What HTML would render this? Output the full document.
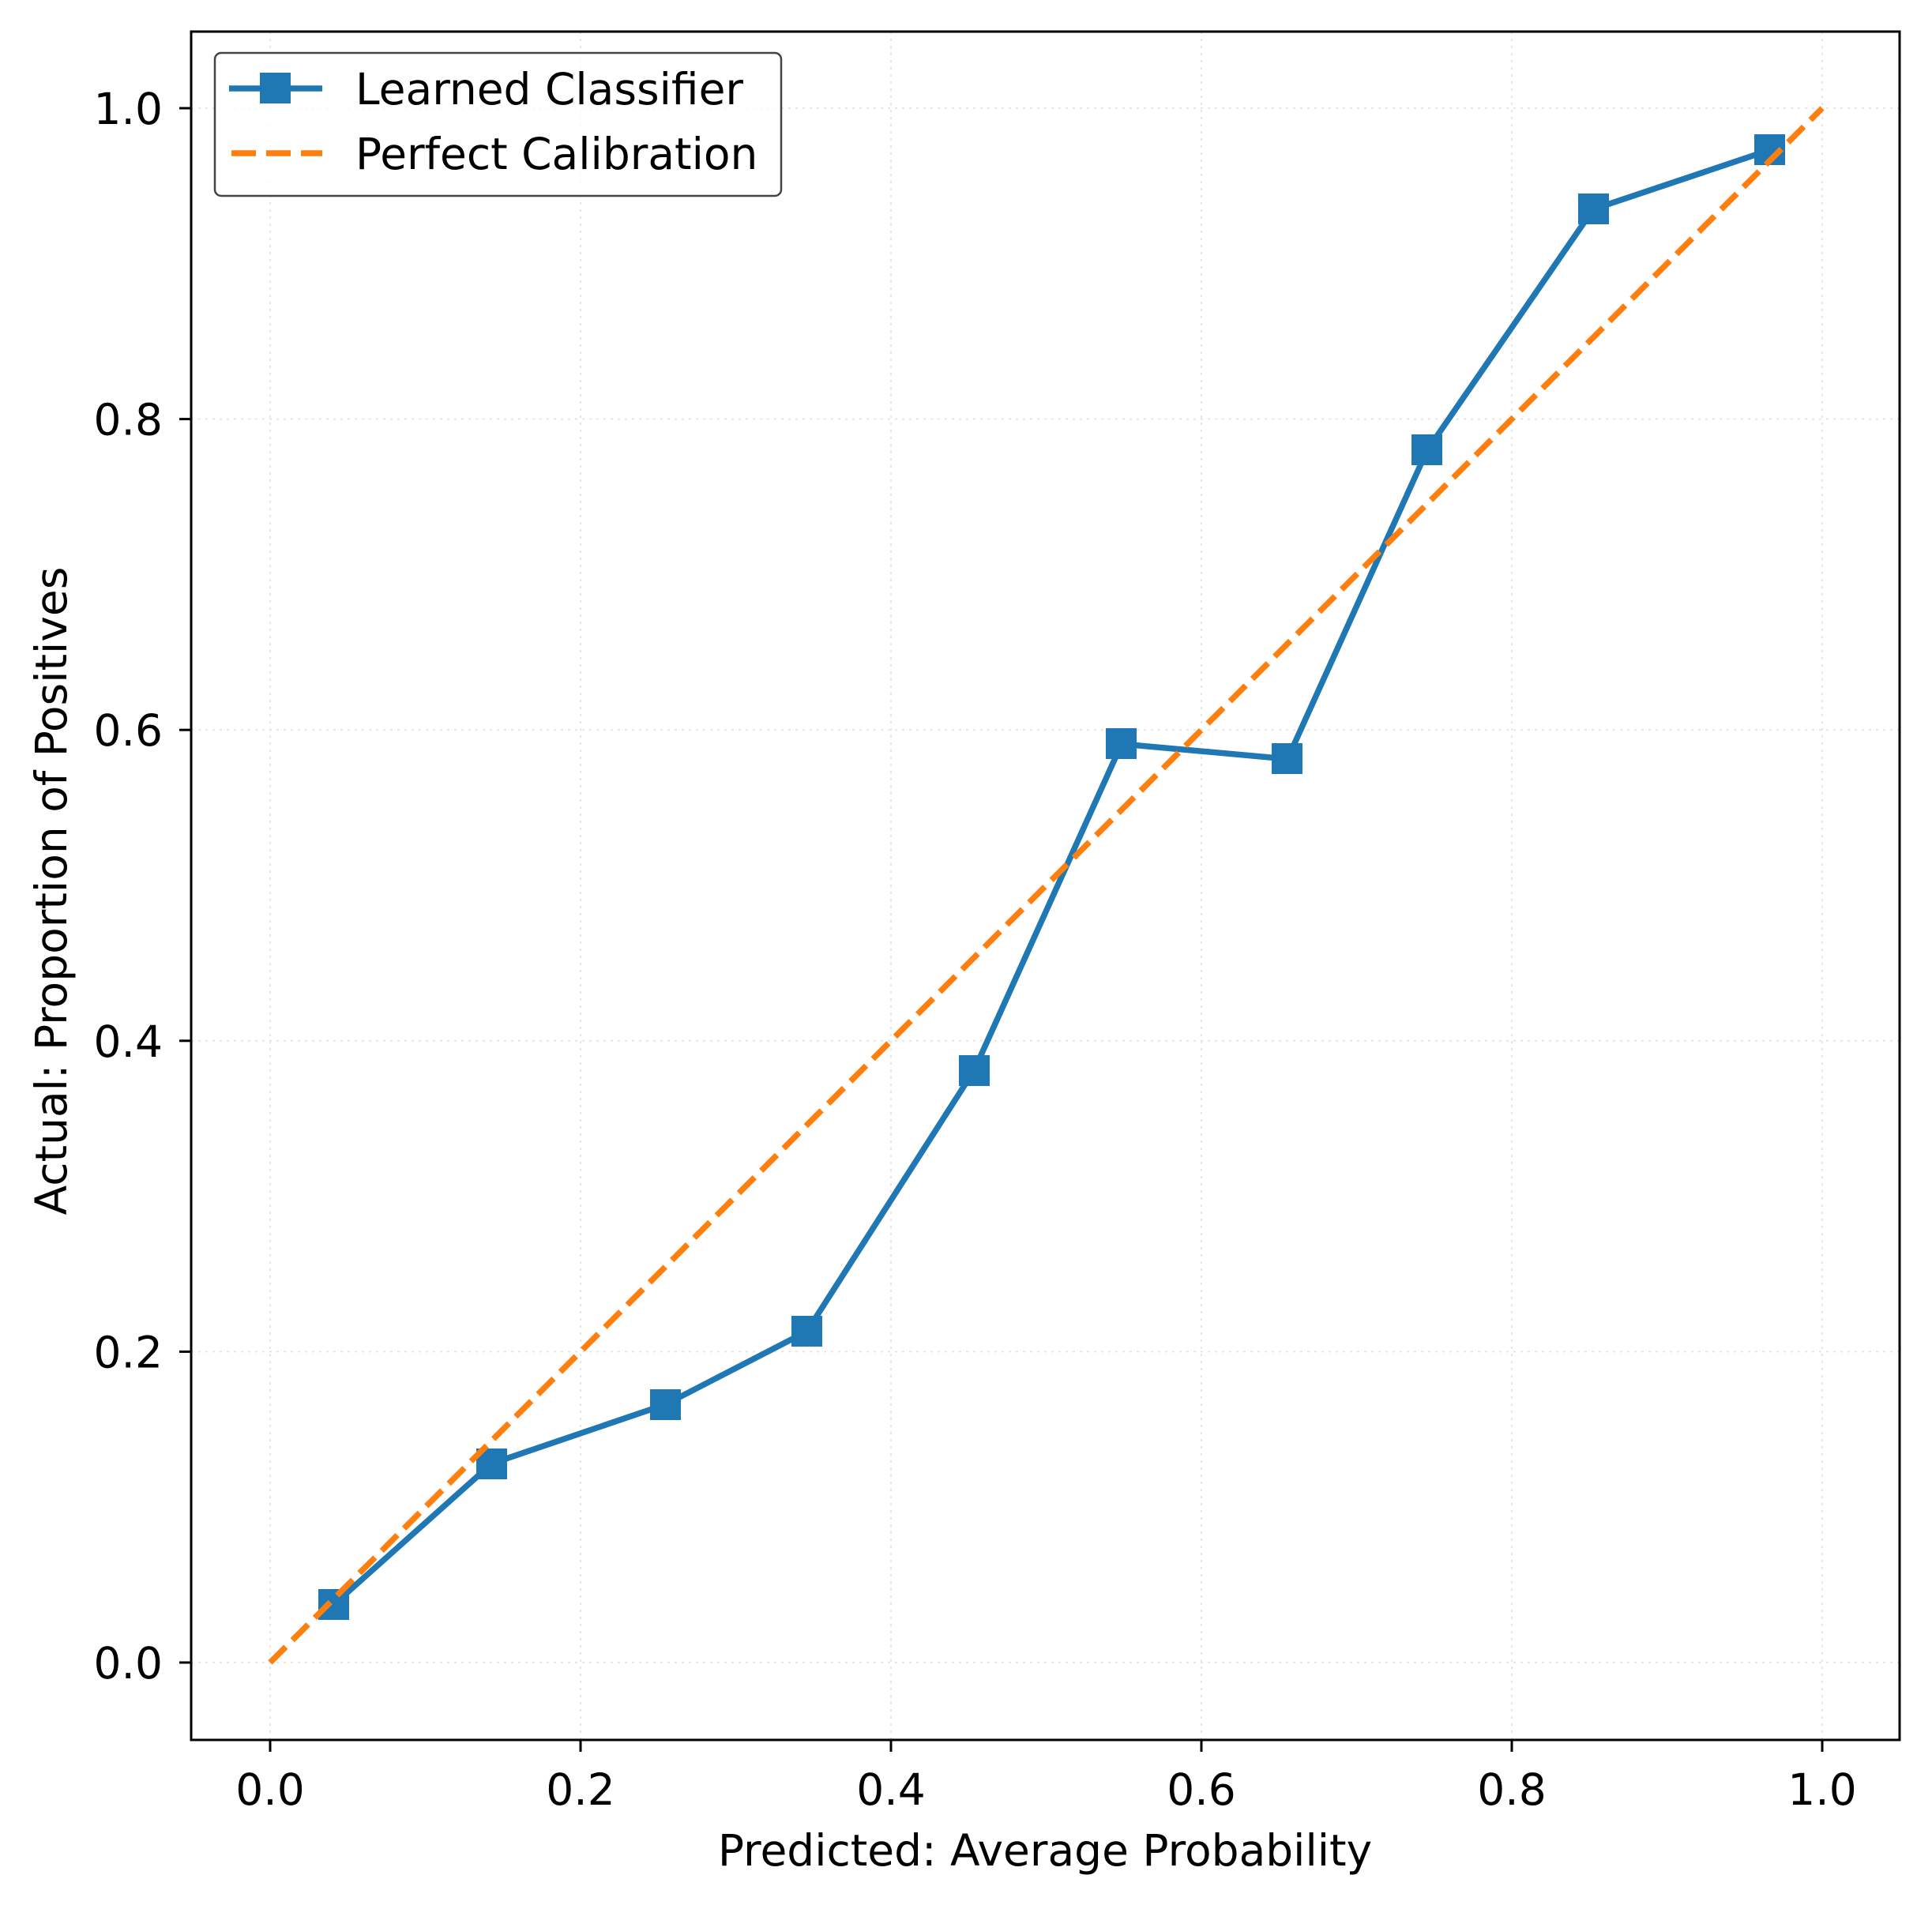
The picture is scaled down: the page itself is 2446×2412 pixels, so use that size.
<!DOCTYPE html>
<html><head><meta charset="utf-8"><style>
html,body{margin:0;padding:0;background:#fff;}
svg{display:block;}
text{font-family:"DejaVu Sans","Liberation Sans",sans-serif;fill:#000;}
</style></head><body>
<svg width="2446" height="2412" viewBox="0 0 2446 2412" xmlns="http://www.w3.org/2000/svg">
<rect width="2446" height="2412" fill="#fff"/>
<g stroke="#e6e6e6" stroke-width="2" stroke-dasharray="3,6">
<line x1="342" y1="40" x2="342" y2="2203"/><line x1="735" y1="40" x2="735" y2="2203"/>
<line x1="1128" y1="40" x2="1128" y2="2203"/><line x1="1521" y1="40" x2="1521" y2="2203"/>
<line x1="1914" y1="40" x2="1914" y2="2203"/><line x1="2307" y1="40" x2="2307" y2="2203"/>
<line x1="242" y1="2105" x2="2405" y2="2105"/><line x1="242" y1="1711.4" x2="2405" y2="1711.4"/>
<line x1="242" y1="1317.8" x2="2405" y2="1317.8"/><line x1="242" y1="924.2" x2="2405" y2="924.2"/>
<line x1="242" y1="530.6" x2="2405" y2="530.6"/><line x1="242" y1="137" x2="2405" y2="137"/>
</g>
<polyline fill="none" stroke="#1f77b4" stroke-width="7.5" stroke-linejoin="round" points="422.6,2031.6 622.6,1853.1 842.3,1778.3 1021.5,1685.8 1233.3,1355.2 1420,942 1630,961 1806.9,570 2017.2,264.9 2240.2,190.1"/>
<g fill="#1f77b4">
<rect x="403" y="2012" width="39" height="39"/><rect x="603" y="1834" width="39" height="39"/>
<rect x="823" y="1759" width="39" height="39"/><rect x="1002" y="1666" width="39" height="39"/>
<rect x="1214" y="1336" width="39" height="39"/><rect x="1400" y="922" width="39" height="39"/>
<rect x="1610" y="941" width="39" height="39"/><rect x="1787" y="550" width="39" height="39"/>
<rect x="1998" y="245" width="39" height="39"/><rect x="2221" y="170" width="39" height="39"/>
</g>
<line x1="342" y1="2105" x2="2307" y2="137" stroke="#ff7f0e" stroke-width="7.5" stroke-dasharray="28,12"/>
<rect x="242" y="40" width="2163" height="2163" fill="none" stroke="#000" stroke-width="3"/>
<g stroke="#000" stroke-width="3">
<line x1="342" y1="2203" x2="342" y2="2218"/><line x1="735" y1="2203" x2="735" y2="2218"/>
<line x1="1128" y1="2203" x2="1128" y2="2218"/><line x1="1521" y1="2203" x2="1521" y2="2218"/>
<line x1="1914" y1="2203" x2="1914" y2="2218"/><line x1="2307" y1="2203" x2="2307" y2="2218"/>
<line x1="227" y1="2105" x2="242" y2="2105"/><line x1="227" y1="1711.4" x2="242" y2="1711.4"/>
<line x1="227" y1="1317.8" x2="242" y2="1317.8"/><line x1="227" y1="924.2" x2="242" y2="924.2"/>
<line x1="227" y1="530.6" x2="242" y2="530.6"/><line x1="227" y1="137" x2="242" y2="137"/>
</g>
<g font-size="55" text-anchor="middle">
<text x="342" y="2285">0.0</text><text x="735" y="2285">0.2</text><text x="1128" y="2285">0.4</text>
<text x="1521" y="2285">0.6</text><text x="1914" y="2285">0.8</text><text x="2307" y="2285">1.0</text>
</g>
<g font-size="55" text-anchor="end">
<text x="206" y="2125">0.0</text><text x="206" y="1731.4">0.2</text><text x="206" y="1337.8">0.4</text>
<text x="206" y="944.2">0.6</text><text x="206" y="550.6">0.8</text><text x="206" y="157">1.0</text>
</g>
<text x="1323" y="2362" font-size="55" text-anchor="middle">Predicted: Average Probability</text>
<text x="0" y="0" font-size="55" text-anchor="middle" transform="translate(84,1128) rotate(-90)">Actual: Proportion of Positives</text>
<rect x="272" y="67" width="717" height="181" rx="8" fill="#fff" fill-opacity="0.8" stroke="#444" stroke-width="2.5"/>
<line x1="290" y1="112" x2="408" y2="112" stroke="#1f77b4" stroke-width="7.5"/>
<rect x="329" y="92" width="39" height="39" fill="#1f77b4"/>
<line x1="293" y1="194" x2="408" y2="194" stroke="#ff7f0e" stroke-width="7.5" stroke-dasharray="31,13"/>
<text x="450" y="132" font-size="55">Learned Classifier</text>
<text x="450" y="214" font-size="55">Perfect Calibration</text>
</svg>
</body></html>
